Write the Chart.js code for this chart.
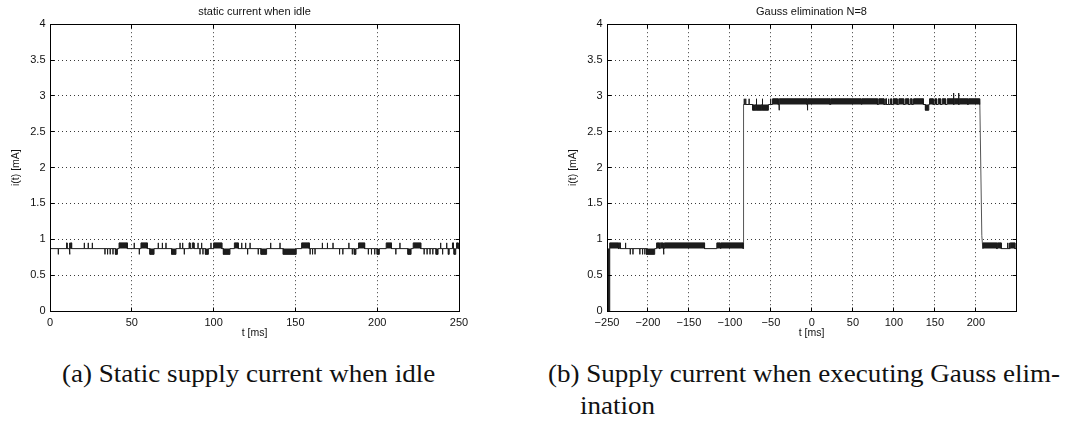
<!DOCTYPE html>
<html>
<head>
<meta charset="utf-8">
<script src="https://cdn.jsdelivr.net/npm/chart.js@4.4.1/dist/chart.umd.min.js"></script>
<style>
  body { margin: 0; background: #fff; width: 1081px; height: 425px; overflow: hidden; position: relative; }
  .panel { position: absolute; top: 0; }
  .caption {
    position: absolute; font-family: "Liberation Serif", "Times New Roman", serif;
    font-size: 26px; line-height: 30px; color: #111; white-space: nowrap;
    transform: scaleX(1.04); transform-origin: left center;
  }
</style>
</head>
<body>
<div class="panel" style="left:0"><canvas id="idle" width="540" height="350"></canvas></div>
<div class="panel" style="left:540px"><canvas id="gauss" width="541" height="350"></canvas></div>
<div class="caption" style="left:62px; top:359px">(a) Static supply current when idle</div>
<div class="caption" style="left:548px; top:359px">(b) Supply current when executing Gauss elim-</div>
<div class="caption" style="left:580px; top:391px">ination</div>

<script>
// ---- idle measurement (t in ms, i in mA) ----
const idleSpan = [0, 250];
const idleBase = 0.87, idleHigh = 0.95, idleLow = 0.79;
// [start, end] of samples above / below the resting level
const idleUp = [[10.2, 10.4], [11.8, 12.0], [12.5, 13.2], [21, 21], [23.4, 23.4], [25.9, 25.9],
  [42.2, 47.3], [51.5, 51.5], [55.6, 59.5], [66.2, 66.2], [68.7, 68.7], [70.9, 70.9],
  [79.5, 79.5], [81.1, 81.1], [85, 85.6], [87, 88], [90.5, 90.5], [92.7, 92.7], [98.4, 98.4],
  [100, 105], [112.7, 115.1], [117.2, 117.2], [119.6, 119.6], [122.3, 122.3], [134.9, 134.9],
  [140.6, 140.6], [153.8, 158.5], [166.5, 166.5], [169.6, 169.6], [173, 173], [182.7, 182.7],
  [188.6, 192.3], [205.5, 208.7], [213.9, 213.9], [222, 226.6], [238.8, 238.8], [242.5, 242.5],
  [246, 246.6], [248.5, 249.5]];
const idleDown = [[5.1, 5.1], [12.2, 12.2], [33.6, 33.6], [35.2, 35.2], [36.8, 36.8], [38.5, 38.5],
  [40, 41.2], [54.6, 54.6], [61.1, 63.6], [74.4, 77], [82.1, 82.1], [91.7, 91.7], [93.5, 93.5],
  [95, 96.8], [106, 110], [120.8, 120.8], [127.3, 127.3], [129, 132.4], [142.6, 150.5],
  [159, 159], [160.5, 160.5], [162, 162], [177, 177], [179, 179], [184.8, 184.8], [186, 187],
  [194.6, 194.6], [196.5, 196.5], [198.5, 198.5], [200, 201.3], [211.4, 211.4], [218.8, 220.7],
  [228.7, 228.7], [230.5, 230.5], [232.3, 232.3], [234, 234], [236, 237.2], [240, 240],
  [243.5, 244], [247, 248]];

// ---- Gauss elimination run ----
const gaussSpan = [-250, 249];
const lowBase = 0.87, lowHigh = 0.95, lowLow = 0.79;
const busyBase = 2.88, busyHigh = 2.96, busyLow = 2.80, busyPeak = 3.04;

const startDropout = [[-249.2, -247]];          // reading at 0 mA
const preUp = [[-246.5, -236], [-235, -233.7], [-227.3, -227.3], [-189.5, -186], [-185, -181.5],
  [-180, -131], [-116, -112], [-111, -84]];
const preDown = [[-221.6, -221.6], [-218.3, -218.3], [-209.9, -209.9], [-206.6, -206.6],
  [-203.8, -203.8], [-201.8, -191.8], [-180.6, -180.6]];

const busyUp = [[-82.5, -82.5], [-80.7, -80.7], [-76.6, -76.6], [-67.8, -67.8], [-60.5, -60.5],
  [-50.3, -50.3], [-48, -41], [-39.5, -6], [-5, 22], [23, 60], [61, 80], [81.5, 88], [90, 91],
  [93, 94], [96, 97], [99, 104], [106, 112], [114, 118], [120, 122], [124, 136], [143.5, 148],
  [150, 152], [154, 157], [159, 163], [165, 172.5], [173.5, 178.8], [179.6, 190], [191, 204.5]];
const busyDown = [[-72.2, -68.3], [-67.3, -61], [-60, -53.1], [-40.1, -40.1], [-5.5, -5.5],
  [138.5, 142.6]];
const busyPeaks = [[173, 173], [179.2, 179.2]];

const postUp = [[208.6, 225.5], [226.3, 231], [238.5, 239], [240.5, 241], [241.9, 247.6]];

// switching edges as [t, i]
const riseEdge = [[-83.6, 0.87], [-83.4, 2.88]];
const fallEdge = [[204.9, 2.88], [207.3, 1.05], [208.5, 0.87]];

const xTicksIdle = [0, 50, 100, 150, 200, 250];
const xTicksGauss = [-250, -200, -150, -100, -50, 0, 50, 100, 150, 200];
const yTicks = [0, 0.5, 1, 1.5, 2, 2.5, 3, 3.5, 4];

// turn lists of excursions into a sample-and-hold trace around a resting level
function stepTrace(t0, t1, base, groups) {
  const ev = [];
  groups.forEach(([ranges, level]) => ranges.forEach(([a, b]) => ev.push([a, b, level])));
  ev.sort((p, q) => p[0] - q[0]);
  const pts = [{x: t0, y: base}];
  ev.forEach(([a, b, level]) => {
    pts.push({x: a, y: base}, {x: a, y: level}, {x: b, y: level}, {x: b, y: base});
  });
  pts.push({x: t1, y: base});
  return pts;
}

const toPts = arr => arr.map(([x, y]) => ({x, y}));

const TRACE = '#1c1c1c';
const FONT = '"Liberation Sans", Arial, Helvetica, sans-serif';

function trace(data, base) {
  return {
    data, borderColor: TRACE, backgroundColor: TRACE, borderWidth: 1,
    pointRadius: 0, tension: 0, fill: {value: base}
  };
}

const align = (p) => Math.round(p - 0.5) + 0.5;

// closed box with inward tick marks on all four sides
const framePlugin = {
  id: 'frame',
  afterDraw(chart) {
    const {ctx, chartArea: a, scales: {x, y}} = chart;
    const L = align(a.left), R = align(a.right), T = align(a.top), B = align(a.bottom);
    ctx.save();
    ctx.strokeStyle = '#000';
    ctx.lineWidth = 1;
    ctx.beginPath();
    x.ticks.forEach(t => {
      const p = align(x.getPixelForValue(t.value));
      ctx.moveTo(p, B); ctx.lineTo(p, B - 4);
      ctx.moveTo(p, T); ctx.lineTo(p, T + 4);
    });
    y.ticks.forEach(t => {
      const p = align(y.getPixelForValue(t.value));
      ctx.moveTo(L, p); ctx.lineTo(L + 4, p);
      ctx.moveTo(R, p); ctx.lineTo(R - 4, p);
    });
    ctx.stroke();
    ctx.strokeRect(L, T, R - L, B - T);
    ctx.restore();
  }
};

function makeChart(id, opts) {
  const minus = v => String(v).replace('-', '\u2212');
  return new Chart(document.getElementById(id), {
    type: 'line',
    data: {datasets: opts.datasets},
    options: {
      responsive: false,
      animation: false,
      events: [],
      layout: {padding: {left: 0, right: opts.padRight, top: 0, bottom: 0}},
      plugins: {
        legend: {display: false},
        tooltip: {enabled: false},
        title: {
          display: true, text: opts.title, fullSize: false, color: '#111',
          font: {family: FONT, size: 11, weight: 'normal'},
          padding: {top: 5.5, bottom: 5.5}
        }
      },
      scales: {
        x: {
          type: 'linear', min: opts.span[0], max: opts.span[1],
          afterBuildTicks: s => { s.ticks = opts.xTicks.map(v => ({value: v})); },
          afterFit: s => { s.height = 39; },
          grid: {color: '#3a3a3a', lineWidth: 1, drawTicks: false},
          border: {display: false, dash: [1, 3]},
          ticks: {color: '#111', padding: 5.4, maxRotation: 0, font: {family: FONT, size: 11},
                  callback: v => minus(v)},
          title: {display: true, text: 't [ms]', color: '#111', font: {family: FONT, size: 10.5},
                  padding: {top: 0, bottom: 11}}
        },
        y: {
          type: 'linear', min: 0, max: 4,
          afterBuildTicks: s => { s.ticks = yTicks.map(v => ({value: v})); },
          afterFit: s => { s.width = opts.yWidth; },
          grid: {color: '#3a3a3a', lineWidth: 1, drawTicks: false},
          border: {display: false, dash: [1, 3]},
          ticks: {color: '#111', padding: 4.5, font: {family: FONT, size: 11},
                  callback: v => String(v)},
          title: {display: true, text: 'i(t) [mA]', color: '#111', font: {family: FONT, size: 10.5},
                  padding: {top: opts.yTitlePad, bottom: 0}}
        }
      }
    },
    plugins: [framePlugin]
  });
}

makeChart('idle', {
  title: 'static current when idle',
  span: idleSpan, xTicks: xTicksIdle, padRight: 81, yWidth: 50, yTitlePad: 9.5,
  datasets: [
    trace(stepTrace(idleSpan[0], idleSpan[1], idleBase, [[idleUp, idleHigh], [idleDown, idleLow]]), idleBase)
  ]
});

makeChart('gauss', {
  title: 'Gauss elimination N=8',
  span: gaussSpan, xTicks: xTicksGauss, padRight: 65, yWidth: 67, yTitlePad: 26.8,
  datasets: [
    trace(stepTrace(gaussSpan[0], riseEdge[0][0], lowBase,
      [[startDropout, 0], [preUp, lowHigh], [preDown, lowLow]]), lowBase),
    trace(stepTrace(riseEdge[1][0], fallEdge[0][0], busyBase,
      [[busyUp, busyHigh], [busyDown, busyLow], [busyPeaks, busyPeak]]), busyBase),
    trace(stepTrace(fallEdge[fallEdge.length - 1][0], gaussSpan[1], lowBase,
      [[postUp, lowHigh]]), lowBase),
    {
      data: [...toPts(riseEdge), {x: 60, y: null}, ...toPts(fallEdge)],
      borderColor: '#555', borderWidth: 1, pointRadius: 0, fill: false, spanGaps: false
    }
  ]
});
</script>
</body>
</html>
